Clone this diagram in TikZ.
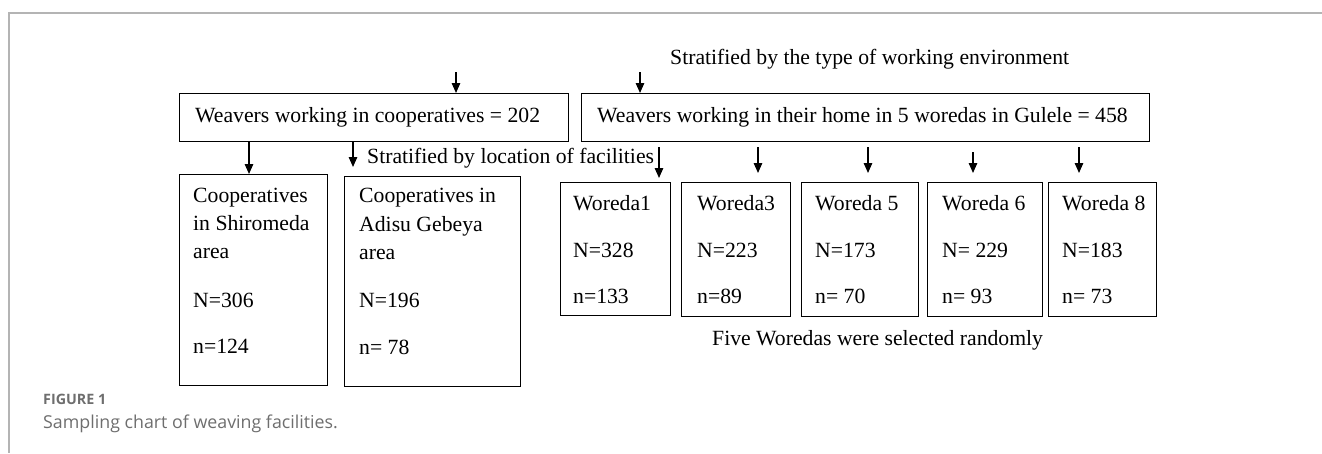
\documentclass[tikz,border=0pt]{standalone}
\usepackage{fontspec}
\setmainfont{Liberation Serif}
\newfontfamily\capfont{Open Sans}
\usetikzlibrary{arrows.meta}
\definecolor{capgray}{HTML}{6E6E6E}
\definecolor{framegray}{HTML}{B4B4B4}
\tikzset{
  box/.style={draw, line width=1.3pt, inner sep=0pt, anchor=north west},
  txt/.style={font=\fontsize{21.7}{26}\selectfont, inner sep=0pt, anchor=base west},
  arr/.style={line width=1.3pt, -{Triangle[length=10pt,width=8.5pt]}},
  framestyle/.style={draw=framegray, line width=1.5pt},
}
\begin{document}
\begin{tikzpicture}[x=1pt,y=-1pt]
\useasboundingbox (0,0) rectangle (1322,453);
% frame
\coordinate (fr1) at (1322,13);
\coordinate (fr2) at (9,13);
\coordinate (fr3) at (9,453);
\draw[framestyle] (fr1) -- (fr2) -- (fr3);

% top level boxes
\node[box, minimum width=389pt, minimum height=48pt] (b1) at (179,93) {};
\node[box, minimum width=568pt, minimum height=48pt] (b2) at (581,93) {};
\node[txt] (b1t) at (195,122) {Weavers working in cooperatives = 202};
\node[txt] (b2t) at (597,122) {Weavers working in their home in 5 woredas in Gulele = 458};

\node[txt] (strat1) at (670,64) {Stratified by the type of working environment};
\coordinate (ta1) at (456,72);
\coordinate (ta2) at (640,72);
\draw[arr] (ta1) -- (ta1 |- b1.north);
\draw[arr] (ta2) -- (ta2 |- b2.north);

% cooperatives boxes
\node[box, minimum width=148pt, minimum height=211pt] (s1) at (179,174) {};
\node[box, minimum width=176pt, minimum height=210pt] (s2) at (344,176) {};
\node[txt] (s1a) at (193,202) {Cooperatives};
\node[txt] (s1b) at (193,230) {in Shiromeda};
\node[txt] (s1c) at (193,258) {area};
\node[txt] (s1d) at (193,307) {N=306};
\node[txt] (s1e) at (193,353) {n=124};
\node[txt] (s2a) at (359,202) {Cooperatives in};
\node[txt] (s2b) at (359,231) {Adisu Gebeya};
\node[txt] (s2c) at (359,259) {area};
\node[txt] (s2d) at (359,307) {N=196};
\node[txt] (s2e) at (359,354) {n= 78};

\coordinate (ca1) at (249,141);
\coordinate (ca2e) at (353,167);
\draw[arr] (ca1) -- (ca1 |- s1.north);
\draw[arr] (b1.south -| ca2e) -- (ca2e);
\node[txt] (strat2) at (367,163) {Stratified by location of facilities};

% woreda boxes
\node[box, minimum width=110pt, minimum height=133pt] (w1) at (560,182) {};
\node[box, minimum width=109pt, minimum height=134pt] (w3) at (681,182) {};
\node[box, minimum width=117pt, minimum height=134pt] (w5) at (801,182) {};
\node[box, minimum width=115pt, minimum height=134pt] (w6) at (927,182) {};
\node[box, minimum width=108pt, minimum height=134pt] (w8) at (1048,182) {};

\node[txt] (w1a) at (573,210) {Woreda1};
\node[txt] (w1b) at (573,257) {N=328};
\node[txt] (w1c) at (573,303) {n=133};
\node[txt] (w3a) at (697,210) {Woreda3};
\node[txt] (w3b) at (697,257) {N=223};
\node[txt] (w3c) at (697,303) {n=89};
\node[txt] (w5a) at (815,210) {Woreda 5};
\node[txt] (w5b) at (815,257) {N=173};
\node[txt] (w5c) at (815,303) {n= 70};
\node[txt] (w6a) at (942,210) {Woreda 6};
\node[txt] (w6b) at (942,257) {N= 229};
\node[txt] (w6c) at (942,303) {n= 93};
\node[txt] (w8a) at (1062,210) {Woreda 8};
\node[txt] (w8b) at (1062,257) {N=183};
\node[txt] (w8c) at (1062,303) {n= 73};

\coordinate (wa1) at (659,147);
\coordinate (wa3) at (758,147);
\coordinate (wa5) at (868,147);
\coordinate (wa6) at (973,152);
\coordinate (wa8) at (1079,147);
\draw[arr, shorten >=4pt] (wa1) -- (wa1 |- w1.north);
\draw[arr, shorten >=9pt] (wa3) -- (wa3 |- w3.north);
\draw[arr, shorten >=9pt] (wa5) -- (wa5 |- w5.north);
\draw[arr, shorten >=9pt] (wa6) -- (wa6 |- w6.north);
\draw[arr, shorten >=9pt] (wa8) -- (wa8 |- w8.north);

\node[txt] (five) at (712,345) {Five Woredas were selected randomly};

% caption
\node[anchor=base west, inner sep=0pt, text=capgray, font=\capfont\bfseries\fontsize{14.3}{16}\selectfont] (figlab) at (43,404) {FIGURE 1};
\node[anchor=base west, inner sep=0pt, text=capgray, font=\capfont\fontsize{17.8}{20}\selectfont] (cap) at (43,428) {Sampling chart of weaving facilities.};
\end{tikzpicture}
\end{document}
